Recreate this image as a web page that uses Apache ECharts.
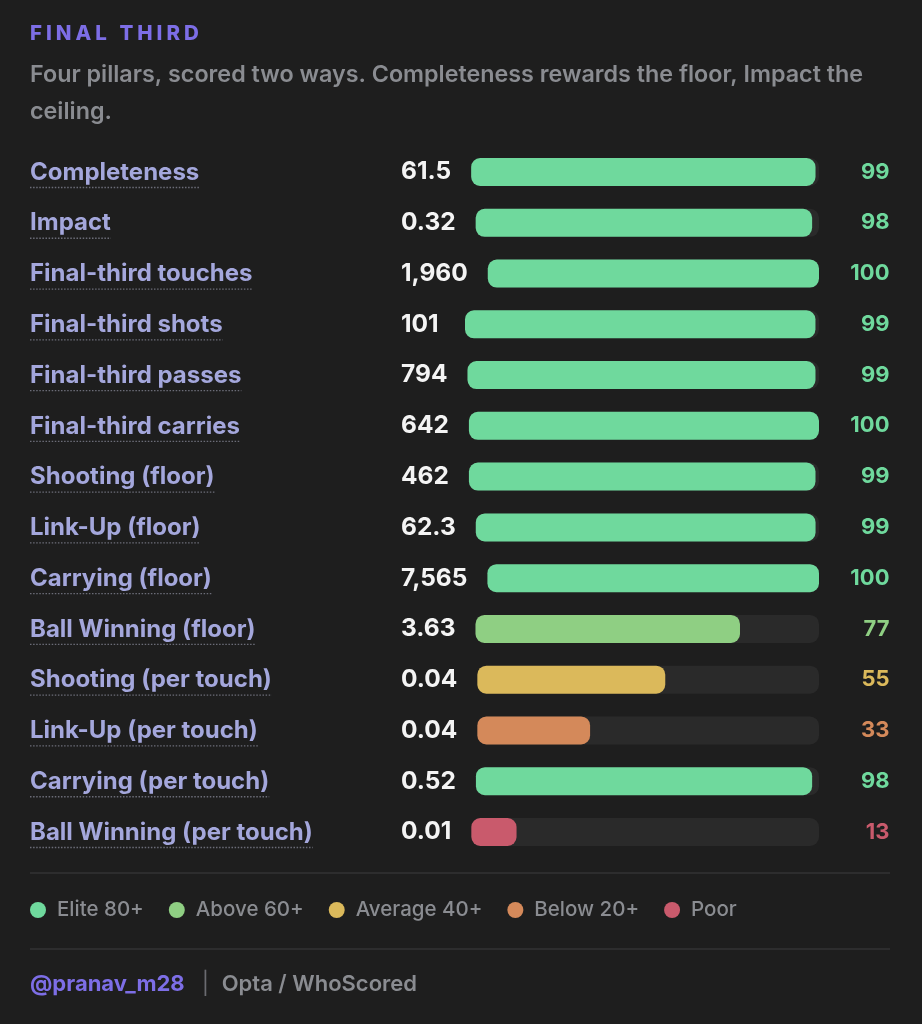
<!DOCTYPE html>
<html>
<head>
<meta charset="utf-8">
<script src="https://cdn.jsdelivr.net/npm/echarts@6/dist/echarts.min.js"></script>
<style>
html,body{margin:0;padding:0;background:#1e1e1e;}
#chart{width:922px;height:1024px;}
</style>
</head>
<body>
<div id="chart"></div>
<script>
// ---- data ----
const categories = ['Completeness','Impact','Final-third touches','Final-third shots','Final-third passes','Final-third carries','Shooting (floor)','Link-Up (floor)','Carrying (floor)','Ball Winning (floor)','Shooting (per touch)','Link-Up (per touch)','Carrying (per touch)','Ball Winning (per touch)'];
const rawValues = ['61.5','0.32','1,960','101','794','642','462','62.3','7,565','3.63','0.04','0.04','0.52','0.01'];
const percentiles = [99,98,100,99,99,100,99,99,100,77,55,33,98,13];
const tierNames = ['Elite 80+','Above 60+','Average 40+','Below 20+','Poor'];
const tierMins = [80,60,40,20,0];
const titleText = 'FINAL THIRD';
const subtitleLines = ['Four pillars, scored two ways. Completeness rewards the floor, Impact the','ceiling.'];
const handleText = '@pranav_m28';
const sourceText = 'Opta / WhoScored';

// ---- styles ----
const tierColors = ['#6fd99d','#8fcf83','#dbb95b','#d4895a','#c95a6c'];
const FONT = 'Inter, "Liberation Sans", Arial, sans-serif';
const BG = '#1e1e1e', TRACK = '#2a2a2a', PURPLE = '#7d6ee6', LABEL = '#a4a7dc', GRAY = '#8a8c91', WHITE = '#f4f4f4';
const ROW0 = 172, STEP = (832 - 172) / 13, BAR_H = 28, TRACK_END = 819;
const VALUE_X = 401, VALUE_MIN_W = 44, VALUE_GAP = 20;

const mctx = document.createElement('canvas').getContext('2d');
function measure(text, font){ mctx.font = font; return mctx.measureText(text).width; }
function tierIndex(p){ for (let i = 0; i < tierMins.length; i++) if (p >= tierMins[i]) return i; return tierMins.length - 1; }

const labelFont = `700 24px ${FONT}`;
const valueFont = `700 24.5px ${FONT}`;
const pctFont = `700 22px ${FONT}`;

const grids = [], xAxes = [], yAxes = [], series = [], graphics = [];

function txt(x, y, text, font, fill, align){
  return {type:'text', x:x, y:y, silent:true, style:{text:text, font:font, fill:fill,
    textAlign:align||'left', align:align||'left', textVerticalAlign:'middle', verticalAlign:'middle'}};
}

// title (letter-spaced) + subtitle
const titleFont = `800 20.5px ${FONT}`;
let tx = 30;
const titleChars = [];
for (const ch of titleText) {
  titleChars.push(txt(tx, 34, ch, titleFont, PURPLE));
  tx += measure(ch, titleFont) + 4.0;
}
graphics.push({type:'group', name:titleText, children:titleChars});
subtitleLines.forEach((l, i) => graphics.push(txt(30, 75 + i * 37, l, `600 23.3px ${FONT}`, GRAY)));

categories.forEach((name, i) => {
  const cy = ROW0 + i * STEP;
  const p = percentiles[i];
  const col = tierColors[tierIndex(p)];
  // label + dotted underline
  graphics.push(txt(30, cy + 0.5, name, labelFont, LABEL));
  const lw = measure(name, labelFont);
  graphics.push({type:'line', silent:true, shape:{x1:30, y1:cy + 15.5, x2:30 + lw, y2:cy + 15.5},
    style:{stroke:'#6c6d78', lineWidth:1.3, lineDash:[1.5, 1.6]}});
  // value
  graphics.push(txt(VALUE_X, cy, rawValues[i], valueFont, WHITE));
  const vw = Math.max(VALUE_MIN_W, measure(rawValues[i], valueFont));
  const left = VALUE_X + vw + VALUE_GAP;
  // percentile
  graphics.push(txt(889.5, cy, String(p), pctFont, col, 'right'));
  grids.push({left:left, width:TRACK_END - left, top:cy - BAR_H / 2, height:BAR_H, containLabel:false});
  xAxes.push({type:'value', gridIndex:i, min:0, max:100, show:false});
  yAxes.push({type:'category', gridIndex:i, data:[name], show:false});
  series.push({type:'bar', xAxisIndex:i, yAxisIndex:i, data:[p], barWidth:BAR_H, silent:true,
    showBackground:true, backgroundStyle:{color:TRACK, borderRadius:9},
    itemStyle:{color:col, borderRadius:9}});
});

// dividers
[873, 949].forEach(y => graphics.push({type:'line', silent:true, shape:{x1:30, y1:y, x2:890, y2:y},
  style:{stroke:'#333335', lineWidth:1.5}}));

// legend
const legFont = `500 20.5px ${FONT}`;
let lx = 30;
tierNames.forEach((n, i) => {
  graphics.push({type:'circle', silent:true, shape:{cx:lx + 8, cy:910, r:8}, style:{fill:tierColors[i]}});
  graphics.push(txt(lx + 27, 910, n, legFont, GRAY));
  lx += 27 + measure(n, legFont) + 25;
});

// footer
const handleFont = `700 22px ${FONT}`;
const srcFont = `600 22px ${FONT}`;
graphics.push(txt(30, 984, handleText, handleFont, PURPLE));
const hw = measure(handleText, handleFont);
graphics.push(txt(30 + hw + 17, 984, '|', `400 22px ${FONT}`, '#6a6b70'));
graphics.push(txt(30 + hw + 37, 984, sourceText, srcFont, GRAY));

const chart = echarts.init(document.getElementById('chart'), null, {renderer:'canvas'});
chart.setOption({
  backgroundColor: BG,
  animation: false,
  grid: grids, xAxis: xAxes, yAxis: yAxes, series: series,
  graphic: {elements: graphics}
});
</script>
</body>
</html>
